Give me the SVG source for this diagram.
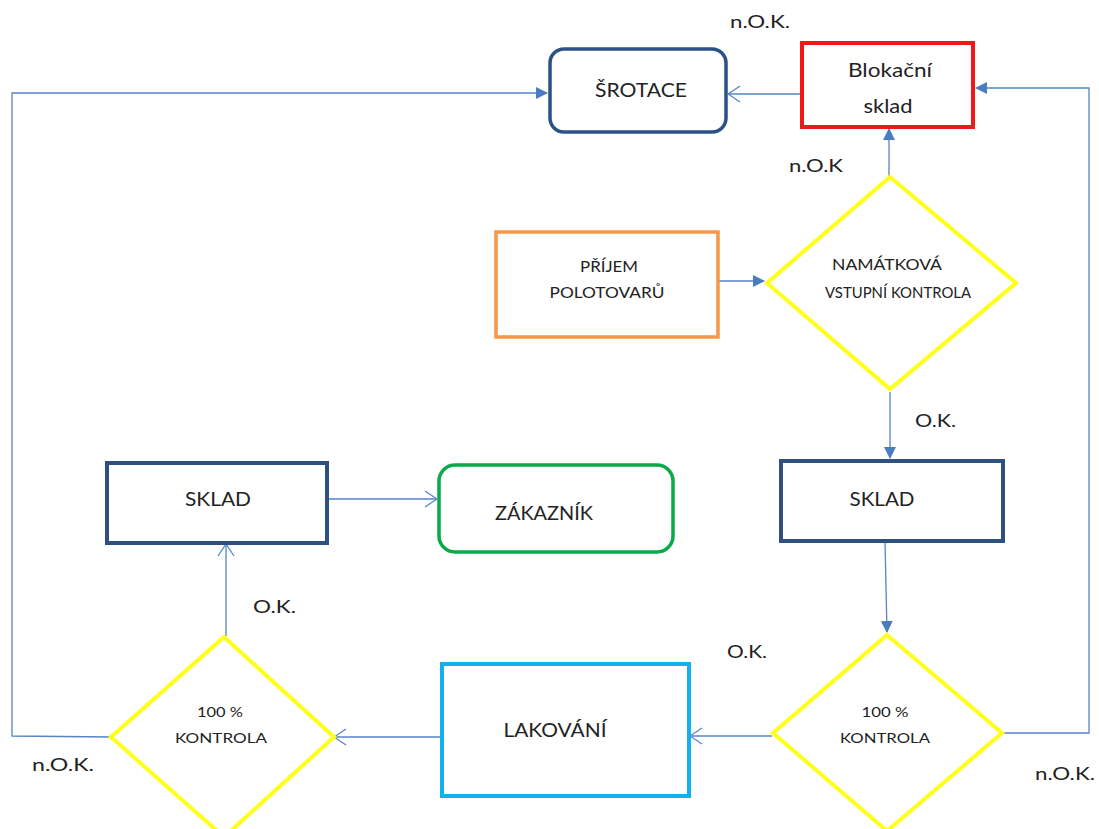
<svg xmlns="http://www.w3.org/2000/svg" width="1099" height="829" viewBox="0 0 1099 829">
<style>
text{font-family:Lato,"Open Sans","Liberation Sans",sans-serif;fill:#222;text-anchor:middle}
.lbl{font-size:18px;text-anchor:start}
.c{fill:none;stroke:#5584c8;stroke-width:1.3}
.fill{marker-end:url(#af)}
.open{marker-end:url(#ao)}
</style>
<defs>
<marker id="af" viewBox="0 0 12 12" refX="11" refY="6" markerWidth="12" markerHeight="12" markerUnits="userSpaceOnUse" orient="auto">
<path d="M0,0 L12,6 L0,12 z" fill="#4a7cc2"/>
</marker>
<marker id="ao" viewBox="0 0 14 18" refX="13" refY="9" markerWidth="14" markerHeight="18" markerUnits="userSpaceOnUse" orient="auto">
<path d="M1,1 L13,9 L1,17" fill="none" stroke="#5584c8" stroke-width="1.3"/>
</marker>
</defs>
<rect width="1099" height="829" fill="#fff"/>
<g id="connectors">
<path class="c open" d="M801,94 L728,94"/>
<path class="c fill" d="M1003,733 L1089,733 L1089,88 L976,88"/>
<path class="c fill" d="M889,176 L889,129"/>
<path class="c fill" d="M719,281 L764,281"/>
<path class="c fill" d="M890,392 L890,458"/>
<path class="c fill" d="M885,542 L887,632"/>
<path class="c open" d="M772,736 L690,736"/>
<path class="c open" d="M441,737 L334,737"/>
<path class="c open" d="M226,636 L226,544"/>
<path class="c open" d="M328,499 L437,499"/>
<path class="c fill" d="M111,737 L12,736 L12,93 L547,93"/>
</g>
<g id="labels">
<text class="lbl" x="730" y="28" textLength="60" lengthAdjust="spacingAndGlyphs">n.O.K.</text>
<text class="lbl" x="789" y="172" textLength="54" lengthAdjust="spacingAndGlyphs">n.O.K</text>
<text class="lbl" x="915" y="427" textLength="41" lengthAdjust="spacingAndGlyphs">O.K.</text>
<text class="lbl" x="727" y="658" textLength="40" lengthAdjust="spacingAndGlyphs">O.K.</text>
<text class="lbl" x="253" y="613" textLength="43" lengthAdjust="spacingAndGlyphs">O.K.</text>
<text class="lbl" x="1035" y="780" textLength="60" lengthAdjust="spacingAndGlyphs">n.O.K.</text>
<text class="lbl" x="32" y="771" textLength="62" lengthAdjust="spacingAndGlyphs">n.O.K.</text>
</g>
<g id="srotace">
<rect x="550" y="49" width="176" height="83" rx="14" fill="#fff" stroke="#2a5286" stroke-width="3.5"/>
<text x="641" y="97" font-size="19" textLength="92" lengthAdjust="spacingAndGlyphs">ŠROTACE</text>
</g>
<g id="blokacni">
<rect x="802" y="43" width="171" height="84" fill="#fff" stroke="#f21818" stroke-width="4"/>
<text x="890" y="77" font-size="20" textLength="84" lengthAdjust="spacingAndGlyphs">Blokační</text>
<text x="888" y="113" font-size="20" textLength="49" lengthAdjust="spacingAndGlyphs">sklad</text>
</g>
<g id="prijem">
<rect x="496" y="232" width="222" height="105" fill="#fff" stroke="#f79646" stroke-width="3.5"/>
<text x="609" y="272" font-size="15" textLength="58" lengthAdjust="spacingAndGlyphs">PŘÍJEM</text>
<text x="607" y="298" font-size="15" textLength="115" lengthAdjust="spacingAndGlyphs">POLOTOVARŮ</text>
</g>
<g id="namatkova">
<path d="M890,177 L1016,283 L890,389 L767,283 Z" fill="#fff" stroke="#ffff1a" stroke-width="4"/>
<text x="887" y="270" font-size="16" textLength="110" lengthAdjust="spacingAndGlyphs">NAMÁTKOVÁ</text>
<text x="898" y="298" font-size="16" textLength="146" lengthAdjust="spacingAndGlyphs">VSTUPNÍ KONTROLA</text>
</g>
<g id="sklad-right">
<rect x="781" y="461" width="222" height="80" fill="#fff" stroke="#2e5080" stroke-width="4"/>
<text x="882" y="506" font-size="19" textLength="65" lengthAdjust="spacingAndGlyphs">SKLAD</text>
</g>
<g id="kontrola-right">
<path d="M887,635 L1002,733 L887,831 L773,733 Z" fill="#fff" stroke="#ffff1a" stroke-width="4"/>
<text x="885" y="717" font-size="14" textLength="47" lengthAdjust="spacingAndGlyphs">100 %</text>
<text x="885" y="743" font-size="14" textLength="90" lengthAdjust="spacingAndGlyphs">KONTROLA</text>
</g>
<g id="lakovani">
<rect x="442" y="664" width="247" height="132" fill="#fff" stroke="#13b0ee" stroke-width="4"/>
<text x="555" y="737" font-size="20" textLength="103" lengthAdjust="spacingAndGlyphs">LAKOVÁNÍ</text>
</g>
<g id="kontrola-left">
<path d="M224,637 L334,737 L224,837 L111,737 Z" fill="#fff" stroke="#ffff1a" stroke-width="4"/>
<text x="220" y="717" font-size="14" textLength="46" lengthAdjust="spacingAndGlyphs">100 %</text>
<text x="221" y="743" font-size="14" textLength="92" lengthAdjust="spacingAndGlyphs">KONTROLA</text>
</g>
<g id="sklad-left">
<rect x="107" y="463" width="220" height="80" fill="#fff" stroke="#2e5080" stroke-width="4"/>
<text x="218" y="506" font-size="19" textLength="66" lengthAdjust="spacingAndGlyphs">SKLAD</text>
</g>
<g id="zakaznik">
<rect x="439" y="465" width="234" height="87" rx="16" fill="#fff" stroke="#0aaa4a" stroke-width="3.5"/>
<text x="544" y="520" font-size="20" textLength="98" lengthAdjust="spacingAndGlyphs">ZÁKAZNÍK</text>
</g>
</svg>
